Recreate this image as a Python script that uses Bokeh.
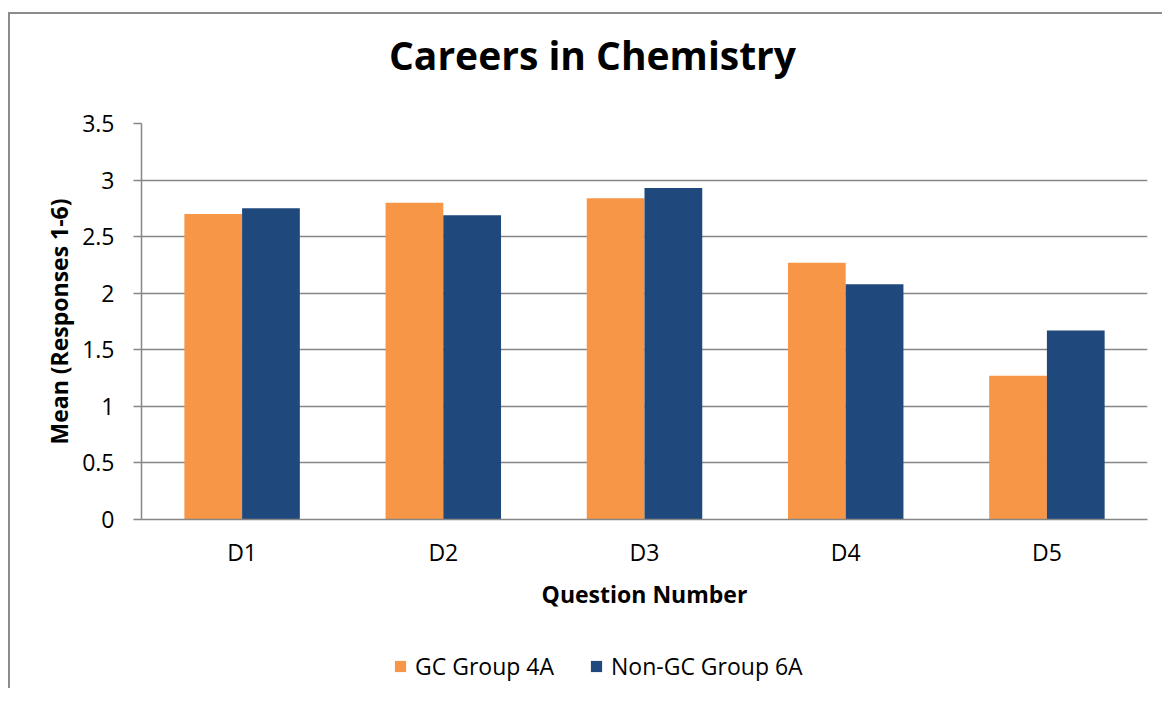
from bokeh.plotting import figure
from bokeh.models import ColumnDataSource, FactorRange, Legend, LegendItem
from bokeh.layouts import column
from bokeh.transform import dodge
from bokeh.core.properties import value
from bokeh.embed import file_html
from bokeh.resources import INLINE

title_text = "Careers in Chemistry"
categories = ["D1", "D2", "D3", "D4", "D5"]
gc_group_4a = [2.70, 2.80, 2.84, 2.27, 1.27]
non_gc_group_6a = [2.75, 2.69, 2.93, 2.08, 1.67]
series_names = ["GC Group 4A", "Non-GC Group 6A"]
y_ticks = [0, 0.5, 1, 1.5, 2, 2.5, 3, 3.5]
y_tick_labels = {0: "0", 0.5: "0.5", 1: "1", 1.5: "1.5", 2: "2", 2.5: "2.5", 3: "3", 3.5: "3.5"}

FONT = "Open Sans"
GRAY = "#868686"
ORANGE = "#F79646"
BLUE = "#1F497D"
BORDER = "2px solid #8c8c8c"

source = ColumnDataSource(data=dict(cat=categories, gc=gc_group_4a, ngc=non_gc_group_6a))

# ---- title strip ----
tp = figure(x_range=(0, 1), y_range=(0, 1), width=1154, height=80,
            output_backend="svg", toolbar_location=None, title_location=None,
            x_axis_location=None, y_axis_location=None,
            min_border_left=0, min_border_right=0, min_border_top=0, min_border_bottom=0)
tp.grid.visible = False
tp.outline_line_color = None
tp.text(x=[0.4483], y=[0.5], text=[title_text], text_align="center", text_baseline="alphabetic",
        text_font=value(FONT), text_font_size="39px", text_font_style="bold", text_color="black")

# ---- main chart ----
p = figure(x_range=FactorRange(*categories, range_padding=0), y_range=(0, 3.5),
           width=1154, height=548, output_backend="svg", toolbar_location=None,
           min_border_left=131, min_border_right=17, min_border_top=31, min_border_bottom=121)

w = 0.287
r1 = p.vbar(x=dodge("cat", -w / 2, range=p.x_range), top="gc", width=w, source=source,
            fill_color=ORANGE, line_color=None)
r2 = p.vbar(x=dodge("cat", w / 2, range=p.x_range), top="ngc", width=w, source=source,
            fill_color=BLUE, line_color=None)

p.xgrid.grid_line_color = None
p.ygrid.grid_line_color = GRAY
p.ygrid.grid_line_width = 1.5
p.ygrid.ticker = y_ticks
p.outline_line_color = None

p.yaxis.ticker = y_ticks
p.yaxis.major_label_overrides = y_tick_labels
p.yaxis.axis_line_color = GRAY
p.yaxis.axis_line_width = 1.5
p.yaxis.major_tick_line_color = GRAY
p.yaxis.major_tick_line_width = 1.5
p.yaxis.major_tick_out = 8
p.yaxis.major_tick_in = 0
p.yaxis.minor_tick_line_color = None
p.yaxis.major_label_text_font = FONT
p.yaxis.major_label_text_font_size = "23px"
p.yaxis.major_label_text_color = "black"
p.yaxis.major_label_standoff = 19
p.yaxis.axis_label = "Mean (Responses 1-6)"
p.yaxis.axis_label_text_font = FONT
p.yaxis.axis_label_text_font_size = "23px"
p.yaxis.axis_label_text_font_style = "bold"
p.yaxis.axis_label_text_color = "black"
p.yaxis.axis_label_standoff = 4

p.xaxis.axis_line_color = GRAY
p.xaxis.axis_line_width = 1.5
p.xaxis.major_tick_line_color = None
p.xaxis.minor_tick_line_color = None
p.xaxis.major_label_text_font = FONT
p.xaxis.major_label_text_font_size = "23px"
p.xaxis.major_label_text_color = "black"
p.xaxis.major_label_standoff = 10
p.xaxis.axis_label = "Question Number"
p.xaxis.axis_label_text_font = FONT
p.xaxis.axis_label_text_font_size = "23px"
p.xaxis.axis_label_text_font_style = "bold"
p.xaxis.axis_label_text_color = "black"
p.xaxis.axis_label_standoff = 7

# ---- legend strip ----
lp = figure(x_range=(0, 1), y_range=(0, 1), width=1154, height=48,
            output_backend="svg", toolbar_location=None,
            x_axis_location=None, y_axis_location=None,
            min_border_left=0, min_border_right=0, min_border_top=0, min_border_bottom=0)
lp.grid.visible = False
lp.outline_line_color = None
nan = float("nan")
swatch = ColumnDataSource(data=dict(left=[nan], right=[nan], bottom=[nan], top=[nan]))
g1 = lp.quad(left="left", right="right", bottom="bottom", top="top", source=swatch,
             fill_color=ORANGE, line_color=None)
g2 = lp.quad(left="left", right="right", bottom="bottom", top="top", source=swatch,
             fill_color=BLUE, line_color=None)

legend = Legend(items=[LegendItem(label=series_names[0], renderers=[g1]),
                       LegendItem(label=series_names[1], renderers=[g2])],
                orientation="horizontal", location=(252, 6))
legend.label_text_font = FONT
legend.label_text_font_size = "23px"
legend.label_text_color = "black"
legend.glyph_width = 14
legend.glyph_height = 14
legend.spacing = 35
legend.label_standoff = 8
legend.border_line_color = None
legend.background_fill_alpha = 0
legend.padding = 0
legend.margin = 0
lp.add_layout(legend, "center")

tp.styles = {"border-left": BORDER, "border-top": BORDER}
p.styles = {"border-left": BORDER}
lp.styles = {"border-left": BORDER}

layout = column(tp, p, lp, spacing=0, styles={"margin-left": "8px", "margin-top": "12px"})

open("out.html", "w").write(file_html(layout, INLINE))
